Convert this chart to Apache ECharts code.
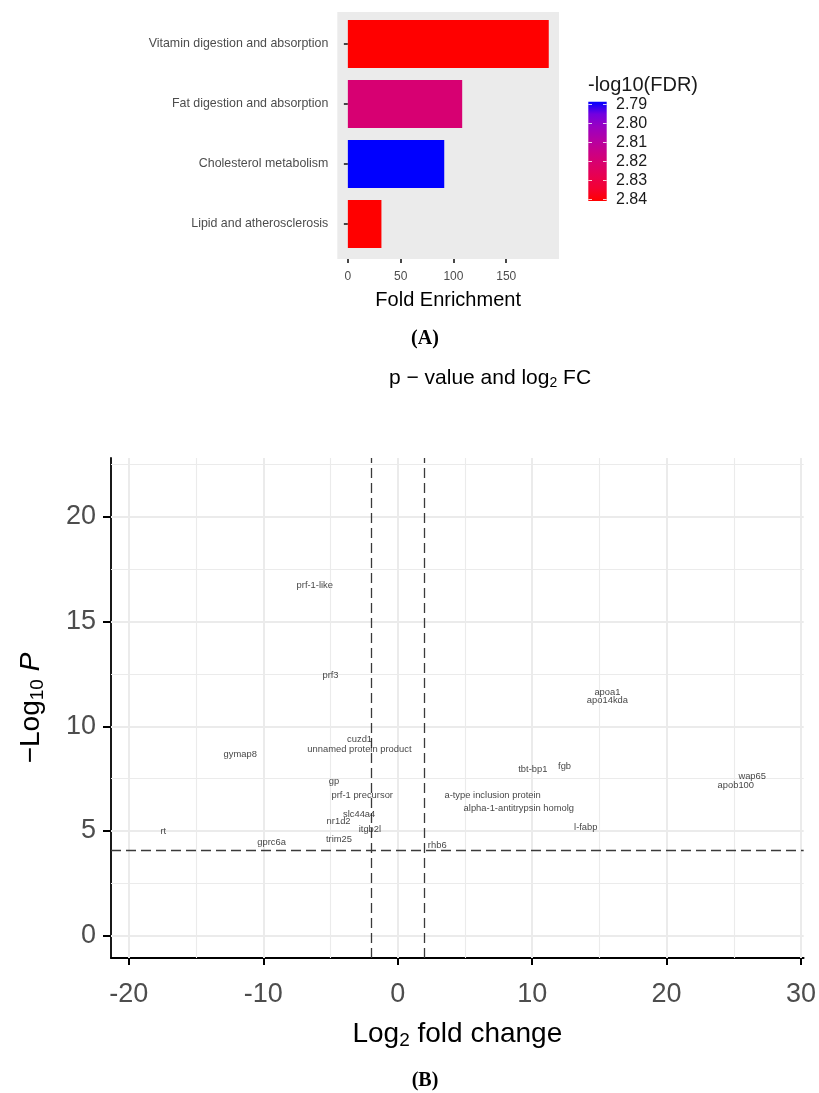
<!DOCTYPE html>
<html><head><meta charset="utf-8">
<script src="https://cdn.jsdelivr.net/npm/echarts@6/dist/echarts.min.js"></script>
<style>html,body{margin:0;padding:0;background:#fff}#c{width:819px;height:1093px}</style>
</head><body><div id="c"></div>
<script>
// ---------- Panel A data ----------
const pathways = ['Vitamin digestion and absorption', 'Fat digestion and absorption', 'Cholesterol metabolism', 'Lipid and atherosclerosis'];
const foldEnrichment = [190.3, 108.3, 91.3, 31.8];
const negLog10FDR = [2.84, 2.82, 2.79, 2.84];
const foldTicks = [0, 50, 100, 150];
const fdrTicks = [2.79, 2.80, 2.81, 2.82, 2.83, 2.84];
const fdrColors = ['#0000FF', '#7300E0', '#9A00C2', '#B300A6', '#C90088', '#DA006C', '#E80050', '#F40031', '#FF0000'];

// ---------- Panel B data ----------
const genes = ['prf-1-like', 'prf3', 'cuzd1', 'unnamed protein product', 'gymap8', 'gp', 'prf-1 precursor', 'slc44a4', 'nr1d2', 'itgb2l', 'trim25', 'rt', 'gprc6a', 'rhb6', 'apoa1', 'apo14kda', 'tbt-bp1', 'fgb', 'wap65', 'apob100', 'a-type inclusion protein', 'alpha-1-antitrypsin homolg', 'l-fabp'];
const log2FC = [-6.17, -5.0, -2.84, -2.85, -11.72, -4.74, -2.64, -2.87, -4.40, -2.07, -4.37, -17.44, -9.38, 2.94, 15.6, 15.6, 10.05, 12.41, 26.37, 25.15, 7.06, 9.01, 13.99];
const negLog10P = [16.72, 12.45, 9.39, 8.92, 8.66, 7.35, 6.72, 5.81, 5.44, 5.08, 4.60, 4.96, 4.46, 4.31, 11.6, 11.26, 7.96, 8.07, 7.59, 7.20, 6.72, 6.08, 5.16];
const fcTicks = [-20, -10, 0, 10, 20, 30];
const fcMinor = [-15, -5, 5, 15, 25];
const pTicks = [0, 5, 10, 15, 20];
const pMinor = [2.5, 7.5, 12.5, 17.5, 22.5];
const fcCutoffs = [-2, 2];
const pCutoff = 4.1;

const FONT = '"Liberation Sans", Arial, Helvetica, sans-serif';
const chart = echarts.init(document.getElementById('c'), null, {renderer: 'canvas'});

// colour bar layout
const cb = {x: 588.3, top: 101.7, w: 18.4, h: 99.3, t0: 104.5, t1: 199.5};
const cbY = v => cb.t0 + (v - fdrTicks[0]) / (fdrTicks[fdrTicks.length - 1] - fdrTicks[0]) * (cb.t1 - cb.t0);
const stops = fdrColors.map((c, i) => ({offset: i / (fdrColors.length - 1), color: c}));

const graphics = [
  {type: 'rect', z: 0, shape: {x: 337.3, y: 12, width: 221.7, height: 247}, style: {fill: '#EBEBEB'}, silent: true},
  {type: 'rect', z: 1, shape: {x: cb.x, y: cb.top, width: cb.w, height: cb.h},
   style: {fill: new echarts.graphic.LinearGradient(0, 0, 0, 1, stops)}, silent: true},
  {type: 'text', x: 588, y: 85, style: {text: '-log10(FDR)', font: '20px ' + FONT, fill: '#1A1A1A', textVerticalAlign: 'middle'}},
  {type: 'text', x: 425, y: 339, style: {text: '(A)', font: 'bold 20px "Liberation Serif", "Times New Roman", serif', fill: '#000', textAlign: 'center', textVerticalAlign: 'middle'}},
  {type: 'text', x: 425, y: 1081, style: {text: '(B)', font: 'bold 20px "Liberation Serif", "Times New Roman", serif', fill: '#000', textAlign: 'center', textVerticalAlign: 'middle'}},
  {type: 'text', x: 490, y: 378, style: {
    text: '{n|p − value and log}{s|2}{n| FC}', textAlign: 'center', textVerticalAlign: 'middle',
    rich: {n: {fontFamily: FONT, fontSize: 21, lineHeight: 24, fill: '#000', color: '#000'},
           s: {fontFamily: FONT, fontSize: 14, lineHeight: 9, verticalAlign: 'bottom', fill: '#000', color: '#000'}}}}
];
fdrTicks.forEach(v => {
  const y = cbY(v);
  graphics.push({type: 'line', z: 2, shape: {x1: cb.x, y1: y, x2: cb.x + 3.7, y2: y}, style: {stroke: 'rgba(255,255,255,0.8)', lineWidth: 1}});
  graphics.push({type: 'line', z: 2, shape: {x1: cb.x + cb.w - 3.7, y1: y, x2: cb.x + cb.w, y2: y}, style: {stroke: 'rgba(255,255,255,0.8)', lineWidth: 1}});
  graphics.push({type: 'text', x: 616, y: y, style: {text: v.toFixed(2), font: '16px ' + FONT, fill: '#1A1A1A', textVerticalAlign: 'middle'}});
});

const gridLines = [
  ...fcTicks.map(v => ({xAxis: v, lineStyle: {color: '#EBEBEB', width: 2, type: 'solid'}})),
  ...fcMinor.map(v => ({xAxis: v, lineStyle: {color: '#EBEBEB', width: 1.1, type: 'solid'}})),
  ...pTicks.map(v => ({yAxis: v, lineStyle: {color: '#EBEBEB', width: 2, type: 'solid'}})),
  ...pMinor.map(v => ({yAxis: v, lineStyle: {color: '#EBEBEB', width: 1.1, type: 'solid'}}))
];
const cutLines = [...fcCutoffs.map(v => ({xAxis: v})), {yAxis: pCutoff}];

const option = {
  animation: false,
  backgroundColor: '#fff',
  textStyle: {fontFamily: FONT},
  graphic: {elements: graphics},
  grid: [
    {left: 337.3, top: 14, width: 221.7, height: 240},
    {left: 111, top: 458, width: 695, height: 500}
  ],
  xAxis: [
    {gridIndex: 0, type: 'value', min: -10, max: 200, offset: 5,
     axisLine: {show: false, onZero: false},
     axisTick: {show: true, customValues: foldTicks, length: 4, lineStyle: {color: '#333', width: 1.8}},
     axisLabel: {customValues: foldTicks, color: '#4D4D4D', fontSize: 12, margin: 12},
     splitLine: {show: false},
     name: 'Fold Enrichment', nameLocation: 'middle', nameGap: 31,
     nameTextStyle: {fontSize: 20, color: '#000'}},
    {gridIndex: 1, type: 'value', min: -21.33, max: 30.2,
     axisLine: {show: true, onZero: false, lineStyle: {color: '#000', width: 1.8}},
     axisTick: {show: true, customValues: fcTicks, length: 7, lineStyle: {color: '#000', width: 2}},
     axisLabel: {customValues: fcTicks, color: '#4D4D4D', fontSize: 27, margin: 23},
     splitLine: {show: false},
     name: '{n|Log}{s|2}{n| fold change}', nameLocation: 'middle', nameGap: 60,
     nameTextStyle: {rich: {
       n: {fontSize: 28, lineHeight: 32, color: '#000'},
       s: {fontSize: 19, lineHeight: 12, verticalAlign: 'bottom', color: '#000'}}}}
  ],
  yAxis: [
    {gridIndex: 0, type: 'category', data: pathways, inverse: true,
     axisLine: {show: false},
     axisTick: {show: true, alignWithLabel: true, length: 4, lineStyle: {color: '#333', width: 1.8}},
     axisLabel: {color: '#4D4D4D', fontSize: 12.4, margin: 9},
     splitLine: {show: false}},
    {gridIndex: 1, type: 'value', min: -1.07, max: 22.82,
     axisLine: {show: true, onZero: false, lineStyle: {color: '#000', width: 1.8}},
     axisTick: {show: true, customValues: pTicks, length: 8, lineStyle: {color: '#000', width: 2}},
     axisLabel: {customValues: pTicks, color: '#4D4D4D', fontSize: 27, margin: 15},
     splitLine: {show: false},
     name: '{n|−Log}{s|10}{i| P}', nameLocation: 'middle', nameRotate: 90, nameGap: 64,
     nameTextStyle: {rich: {
       n: {fontSize: 28, lineHeight: 32, color: '#000'},
       s: {fontSize: 19, lineHeight: 12, verticalAlign: 'bottom', color: '#000'},
       i: {fontSize: 28, lineHeight: 32, fontStyle: 'italic', color: '#000'}}}}
  ],
  visualMap: {type: 'continuous', show: false, seriesIndex: 0, dimension: 2,
              min: fdrTicks[0], max: fdrTicks[fdrTicks.length - 1], inRange: {color: fdrColors}},
  series: [
    {type: 'bar', xAxisIndex: 0, yAxisIndex: 0, barWidth: 48, z: 3,
     data: pathways.map((p, i) => [foldEnrichment[i], p, negLog10FDR[i]]),
     encode: {x: 0, y: 1}, emphasis: {disabled: true}},
    {type: 'scatter', xAxisIndex: 1, yAxisIndex: 1, data: [], silent: true, z: 1,
     markLine: {z: 1, silent: true, symbol: ['none', 'none'], label: {show: false}, animation: false, data: gridLines}},
    {type: 'scatter', xAxisIndex: 1, yAxisIndex: 1, z: 4,
     symbolSize: 1, itemStyle: {color: 'rgba(0,0,0,0)'},
     data: genes.map((g, i) => ({name: g, value: [log2FC[i], negLog10P[i]]})),
     label: {show: true, position: 'inside', formatter: '{b}', fontSize: 9.4, color: '#111'},
     emphasis: {disabled: true},
     markLine: {z: 2, silent: true, symbol: ['none', 'none'], label: {show: false}, animation: false,
                lineStyle: {color: '#3A3A3A', width: 1.3, type: [10, 5]}, data: cutLines}}
  ]
};
chart.setOption(option);
</script></body></html>
